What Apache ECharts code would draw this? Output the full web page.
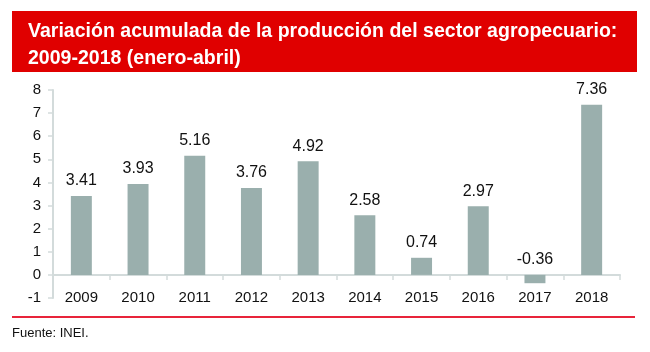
<!DOCTYPE html>
<html><head><meta charset="utf-8">
<script src="https://cdn.jsdelivr.net/npm/echarts@6/dist/echarts.min.js"></script>
<style>html,body{margin:0;padding:0;background:#fff}#c{width:650px;height:352px}</style>
</head><body><div id="c"></div>
<script>
var categories = ['2009','2010','2011','2012','2013','2014','2015','2016','2017','2018'];
var values = [3.41, 3.93, 5.16, 3.76, 4.92, 2.58, 0.74, 2.97, -0.36, 7.36];
var titleLines = ['Variación acumulada de la producción del sector agropecuario:', '2009-2018 (enero-abril)'];
var sourceText = 'Fuente: INEI.';

var chart = echarts.init(document.getElementById('c'), null, {renderer:'canvas'});
var font = '"Liberation Sans", Arial, sans-serif';
chart.setOption({
  animation: false,
  backgroundColor: '#fff',
  grid: {left: 53, right: 30, top: 90, bottom: 54},
  graphic: [
    {type:'rect', shape:{x:12, y:11, width:625, height:61}, style:{fill:'#e00000'}},
    {type:'text', x:28, y:18, scaleX:0.93, style:{text: titleLines.join('\n'), fill:'#fff', font:'bold 21px "Liberation Sans", Arial, sans-serif', lineHeight:27}},
    {type:'rect', shape:{x:12, y:316, width:623, height:2}, style:{fill:'#e8243a'}},
    {type:'text', x:12, y:327, style:{text: sourceText, fill:'#111', font:'13px ' + font}}
  ],
  xAxis: {
    type:'category', data: categories,
    axisLine:{onZero:true, lineStyle:{color:'#d3dbdb', width:2}},
    axisTick:{show:true, length:5, lineStyle:{color:'#d3dbdb', width:1.5}},
    axisLabel:{color:'#111', fontSize:15, fontFamily:font, margin:-8}
  },
  yAxis: {
    type:'value', min:-1, max:8, interval:1,
    axisLine:{show:true, lineStyle:{color:'#d3dbdb', width:2}},
    axisTick:{show:true, length:5, lineStyle:{color:'#d3dbdb', width:1.5}},
    axisLabel:{color:'#111', fontSize:15, fontFamily:font, margin:12},
    splitLine:{show:false}
  },
  series: [{
    type:'bar', data: values, barWidth:'37%',
    itemStyle:{color:'#9aafad'},
    label:{show:true, position:'top', distance:7, color:'#111', fontSize:16, fontFamily:font,
      formatter:function(p){return p.value.toFixed(2);}}
  }]
});
</script></body></html>
